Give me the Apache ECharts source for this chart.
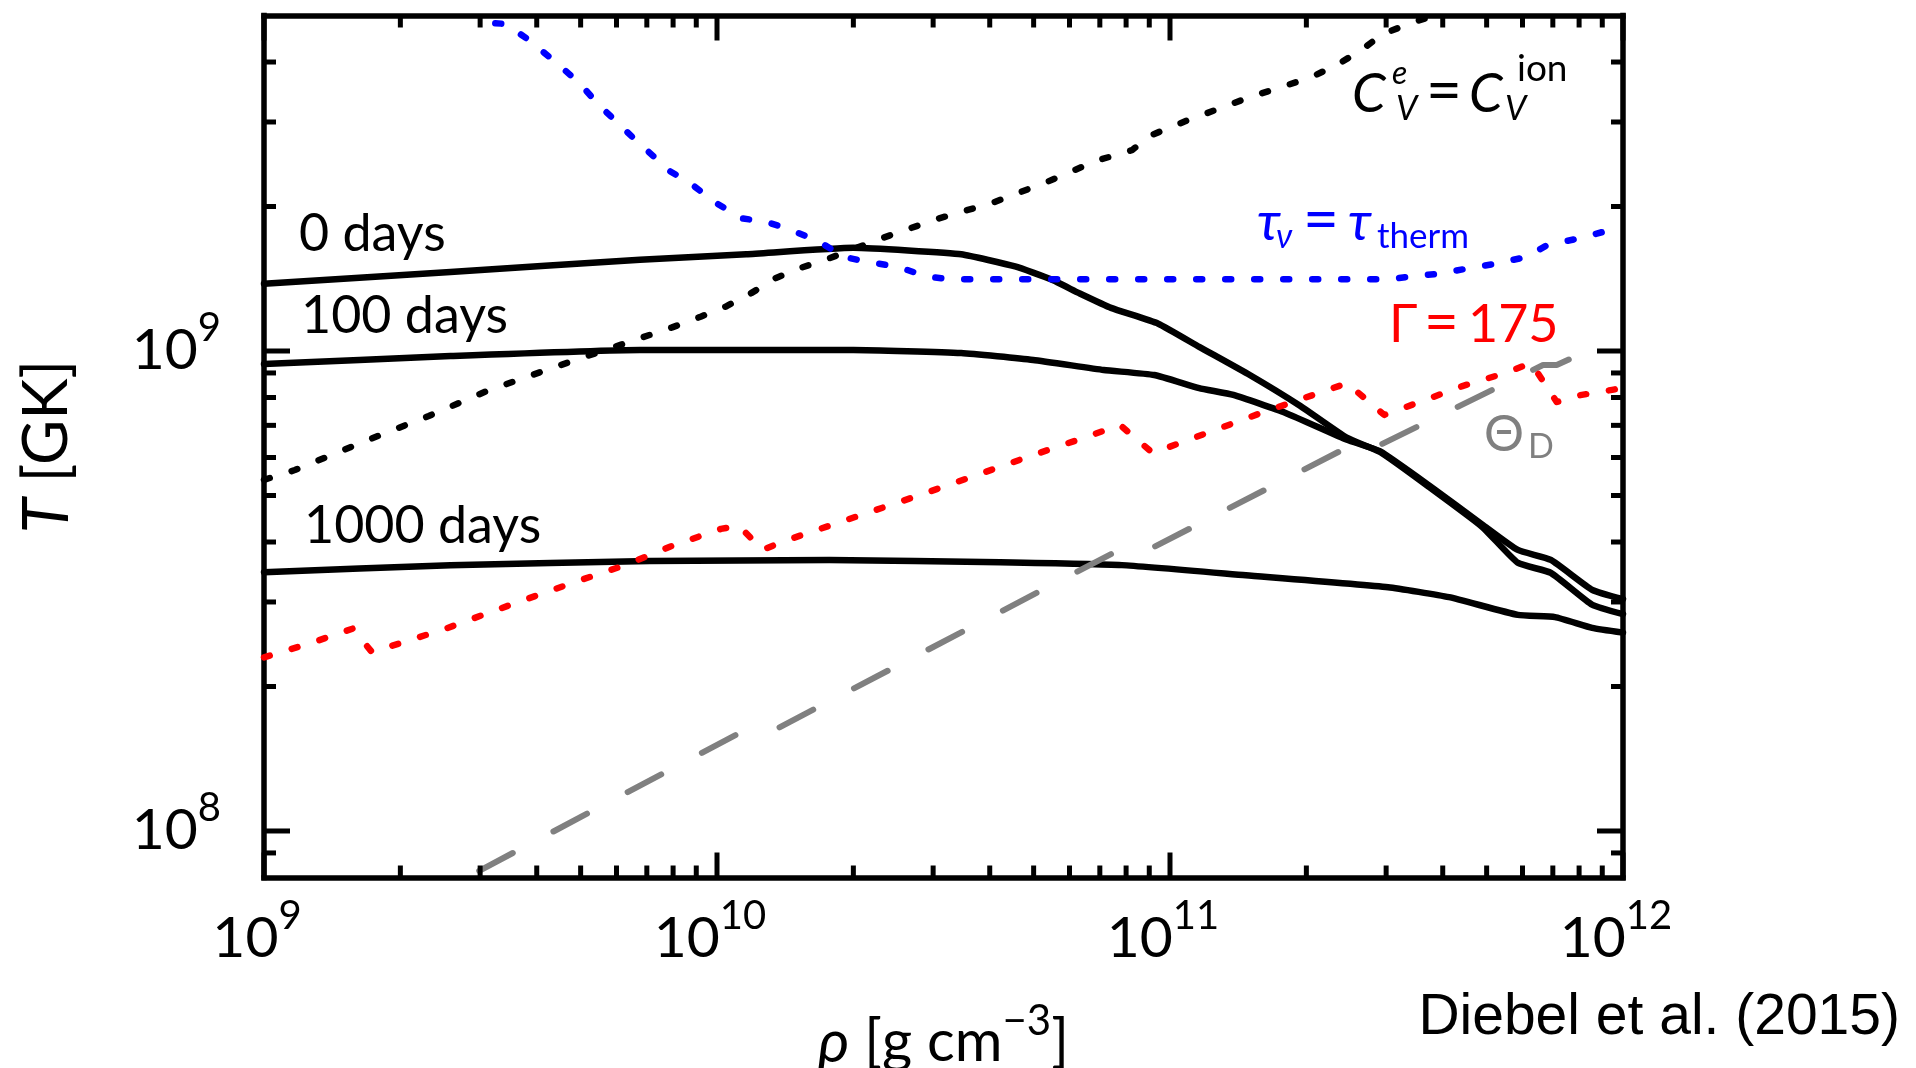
<!DOCTYPE html>
<html>
<head>
<meta charset="utf-8">
<script src="https://cdn.jsdelivr.net/npm/echarts@6/dist/echarts.min.js"></script>
<style>
html,body{margin:0;padding:0;background:#ffffff;}
#chart{width:1916px;height:1068px;}
</style>
</head>
<body>
<div id="chart"></div>
<script>
// ---------------- data ----------------
const rho_0days = [1.00e9, 2.58e9, 6.76e9, 1.16e10, 2.00e10, 2.64e10, 3.46e10, 4.55e10, 5.46e10, 6.30e10, 7.41e10, 9.42e10, 1.16e11, 1.50e11, 1.94e11, 2.46e11, 2.91e11, 3.73e11, 4.89e11, 5.86e11, 6.93e11, 8.55e11, 1.00e12];
const T_0days   = [1.38e9, 1.46e9, 1.55e9, 1.59e9, 1.64e9, 1.62e9, 1.59e9, 1.50e9, 1.41e9, 1.32e9, 1.23e9, 1.14e9, 1.02e9, 8.91e8, 7.68e8, 6.59e8, 6.16e8, 5.21e8, 4.30e8, 3.62e8, 3.45e8, 2.96e8, 2.83e8];

const rho_100days = [1.00e9, 2.58e9, 6.76e9, 2.00e10, 3.46e10, 4.99e10, 7.14e10, 9.23e10, 1.16e11, 1.38e11, 1.80e11, 2.46e11, 2.91e11, 3.73e11, 4.89e11, 5.86e11, 6.93e11, 8.55e11, 1.00e12];
const T_100days   = [9.39e8, 9.76e8, 1.005e9, 1.005e9, 9.90e8, 9.58e8, 9.13e8, 8.91e8, 8.37e8, 8.10e8, 7.43e8, 6.53e8, 6.18e8, 5.25e8, 4.35e8, 3.85e8, 3.67e8, 3.18e8, 3.04e8];

const rho_1000days = [1.00e9, 2.58e9, 7.11e9, 1.77e10, 4.22e10, 7.83e10, 1.47e11, 3.03e11, 4.13e11, 5.86e11, 7.08e11, 8.55e11, 1.00e12];
const T_1000days   = [3.46e8, 3.58e8, 3.65e8, 3.67e8, 3.63e8, 3.58e8, 3.41e8, 3.22e8, 3.07e8, 2.82e8, 2.79e8, 2.65e8, 2.59e8];

// C_V^e = C_V^ion
const rho_cv = [1.00e9, 1.17e9, 1.72e9, 2.31e9, 3.10e9, 4.46e9, 6.12e9, 7.96e9, 9.23e9, 1.05e10, 1.19e10, 1.35e10, 1.53e10, 1.77e10, 2.32e10, 3.04e10, 4.08e10, 5.35e10, 6.87e10, 8.24e10, 9.04e10, 1.08e11, 1.50e11, 2.04e11, 2.35e11, 2.65e11, 2.94e11, 3.40e11, 3.75e11];
const T_cv   = [5.39e8, 5.65e8, 6.56e8, 7.32e8, 8.25e8, 9.31e8, 1.03e9, 1.12e9, 1.18e9, 1.24e9, 1.32e9, 1.42e9, 1.49e9, 1.56e9, 1.72e9, 1.88e9, 2.04e9, 2.25e9, 2.49e9, 2.62e9, 2.81e9, 3.01e9, 3.38e9, 3.71e9, 3.96e9, 4.24e9, 4.57e9, 4.82e9, 4.97e9];

// tau_nu = tau_therm
const rho_tau = [3.24e9, 3.42e9, 3.81e9, 4.46e9, 4.99e9, 5.46e9, 6.56e9, 7.87e9, 8.71e9, 9.91e9, 1.13e10, 1.28e10, 1.45e10, 1.68e10, 1.91e10, 2.17e10, 2.50e10, 2.89e10, 3.29e10, 3.06e11, 3.40e11, 3.96e11, 4.61e11, 5.25e11, 6.11e11, 6.79e11, 8.07e11, 9.42e11, 1.00e12];
const T_tau   = [4.82e9, 4.80e9, 4.47e9, 3.96e9, 3.60e9, 3.27e9, 2.77e9, 2.37e9, 2.24e9, 2.04e9, 1.89e9, 1.86e9, 1.79e9, 1.69e9, 1.57e9, 1.53e9, 1.50e9, 1.43e9, 1.41e9, 1.41e9, 1.43e9, 1.45e9, 1.49e9, 1.52e9, 1.57e9, 1.66e9, 1.72e9, 1.79e9, 1.81e9];

// Gamma = 175
const rho_gamma = [1.00e9, 1.28e9, 1.57e9, 1.73e9, 2.02e9, 2.52e9, 3.17e9, 3.98e9, 4.99e9, 6.27e9, 7.87e9, 1.02e10, 1.12e10, 1.26e10, 1.41e10, 2.89e10, 4.99e10, 6.53e10, 7.76e10, 9.16e10, 1.59e11, 2.46e11, 2.97e11, 3.56e11, 4.42e11, 5.50e11, 6.27e11, 7.14e11, 8.04e11, 9.46e11, 1.00e12];
const T_gamma   = [2.30e8, 2.47e8, 2.64e8, 2.36e8, 2.47e8, 2.64e8, 2.86e8, 3.09e8, 3.33e8, 3.58e8, 3.91e8, 4.26e8, 4.32e8, 3.85e8, 4.02e8, 5.06e8, 6.07e8, 6.62e8, 7.01e8, 6.13e8, 7.43e8, 8.57e8, 7.36e8, 7.83e8, 8.45e8, 9.00e8, 9.44e8, 7.83e8, 8.09e8, 8.30e8, 8.38e8];

// Theta_D
const rho_theta = [2.80e9, 1.12e10, 1.30e10, 7.83e10, 9.10e10, 2.48e11, 2.86e11, 6.66e11, 7.14e11, 8.95e11];
const T_theta   = [8.00e7, 1.60e8, 1.60e8, 3.88e8, 3.88e8, 6.32e8, 6.32e8, 9.35e8, 9.35e8, 1.03e9];

// axis ticks
const xMajorTicks = [1e9, 1e10, 1e11, 1e12];
const xMinorTicks = [2e9, 3e9, 4e9, 5e9, 6e9, 7e9, 8e9, 9e9, 2e10, 3e10, 4e10, 5e10, 6e10, 7e10, 8e10, 9e10, 2e11, 3e11, 4e11, 5e11, 6e11, 7e11, 8e11, 9e11];
const yMajorTicks = [1e8, 1e9];
const yMinorTicks = [9e7, 2e8, 3e8, 4e8, 5e8, 6e8, 7e8, 8e8, 9e8, 2e9, 3e9, 4e9];

// ---------------- chart ----------------
const FONT = "Lato, 'Noto Sans', 'DejaVu Sans', sans-serif";
const chart = echarts.init(document.getElementById('chart'), null, {renderer: 'canvas'});

function zip(xs, ys) { return xs.map((x, i) => [x, ys[i]]); }

function lineSeries(name, xs, ys, lineStyle, z, smooth) {
  return {
    type: 'line', name: name, data: zip(xs, ys), showSymbol: false, symbol: 'none',
    smooth: smooth || false, silent: true, z: z, lineStyle: lineStyle, emphasis: {disabled: true},
    xAxisIndex: 0, yAxisIndex: 0
  };
}

function tickSeries(values, axis, len) {
  return {
    type: 'custom', silent: true, clip: false, z: 6, xAxisIndex: 0, yAxisIndex: 0,
    data: values.map(v => axis === 'x' ? [v, 1e9] : [1e10, v]),
    renderItem: function (params, api) {
      const cs = params.coordSys;
      const p = api.coord([api.value(0), api.value(1)]);
      const st = {stroke: '#000', lineWidth: 5};
      if (axis === 'x') {
        const yb = cs.y + cs.height, yt = cs.y;
        return {type: 'group', children: [
          {type: 'line', shape: {x1: p[0], y1: yb, x2: p[0], y2: yb - len}, style: st},
          {type: 'line', shape: {x1: p[0], y1: yt, x2: p[0], y2: yt + len}, style: st}
        ]};
      } else {
        const xl = cs.x, xr = cs.x + cs.width;
        return {type: 'group', children: [
          {type: 'line', shape: {x1: xl, y1: p[1], x2: xl + len, y2: p[1]}, style: st},
          {type: 'line', shape: {x1: xr, y1: p[1], x2: xr - len, y2: p[1]}, style: st}
        ]};
      }
    }
  };
}

function powLabel(v) {
  const e = Math.log10(v);
  if (Math.abs(e - Math.round(e)) > 1e-6) return '';
  return '{b|10}{s|' + Math.round(e) + '}';
}

const labelRich = {
  b: {fontFamily: FONT, fontSize: 57, color: '#000', padding: [14, 0, 0, 0]},
  s: {fontFamily: FONT, fontSize: 40, color: '#000', verticalAlign: 'top'}
};
const frameLine = {show: true, onZero: false, lineStyle: {color: '#000', width: 5.5, cap: 'square'}};

// text helper: x = left edge, b = baseline
function txt(text, x, b, size, color, opts) {
  opts = opts || {};
  const fam = opts.family || FONT;
  const k = opts.k || 0.387;
  return {
    type: 'text', x: x, y: b - k * size, silent: true, z: 100,
    style: {
      text: text, fill: color, fontFamily: fam, fontSize: size,
      fontStyle: opts.italic ? 'italic' : 'normal',
      align: opts.align || 'left', verticalAlign: 'middle'
    }
  };
}

const solid = {color: '#000', width: 6.5, cap: 'round', join: 'round'};
const dotted = c => ({color: c, width: 6.5, type: [6, 23], cap: 'round', join: 'round'});

const option = {
  animation: false,
  backgroundColor: '#ffffff',
  grid: {left: 264, top: 15.5, width: 1359, height: 862, containLabel: false, outerBoundsMode: 'none'},
  xAxis: [
    {
      type: 'log', logBase: 10, min: 1e9, max: 1e12, position: 'bottom',
      axisLine: frameLine, axisTick: {show: false}, minorTick: {show: false},
      splitLine: {show: false}, minorSplitLine: {show: false},
      axisLabel: {margin: 19, formatter: powLabel, rich: labelRich, padding: [0, 14, 0, 0]},
      name: '{i|ρ} {n|[g cm}{s|−3}{n|]}', nameLocation: 'middle', nameGap: 123,
      nameTextStyle: {
        fontFamily: FONT, fontSize: 58, color: '#000',
        rich: {
          i: {fontFamily: FONT, fontSize: 60, fontStyle: 'italic', color: '#000', padding: [12, 0, 0, 0]},
          n: {fontFamily: FONT, fontSize: 58, color: '#000', padding: [12, 0, 0, 0]},
          s: {fontFamily: FONT, fontSize: 42, color: '#000', verticalAlign: 'top'}
        }
      }
    },
    {
      type: 'log', logBase: 10, min: 1e9, max: 1e12, position: 'top',
      axisLine: frameLine, axisTick: {show: false}, axisLabel: {show: false}, splitLine: {show: false}
    }
  ],
  yAxis: [
    {
      type: 'log', logBase: 10, min: 8e7, max: 5e9, position: 'left',
      axisLine: frameLine, axisTick: {show: false}, minorTick: {show: false},
      splitLine: {show: false}, minorSplitLine: {show: false},
      axisLabel: {margin: 43, formatter: powLabel, rich: labelRich, padding: [0, 0, 14, 0]},
      name: '{i|T} {n|[GK]}', nameLocation: 'middle', nameRotate: 90, nameGap: 185,
      nameTextStyle: {
        fontFamily: FONT, fontSize: 62, color: '#000',
        rich: {
          i: {fontFamily: FONT, fontSize: 64, fontStyle: 'italic', color: '#000'},
          n: {fontFamily: FONT, fontSize: 62, color: '#000'}
        }
      }
    },
    {
      type: 'log', logBase: 10, min: 8e7, max: 5e9, position: 'right',
      axisLine: frameLine, axisTick: {show: false}, axisLabel: {show: false}, splitLine: {show: false}
    }
  ],
  series: [
    lineSeries('1000 days', rho_1000days, T_1000days, solid, 2, 0.15),
    lineSeries('100 days', rho_100days, T_100days, solid, 2, 0.15),
    lineSeries('0 days', rho_0days, T_0days, solid, 2, 0.15),
    lineSeries('Theta_D', rho_theta, T_theta, {color: '#808080', width: 6, type: [38, 46], dashOffset: -14.3, cap: 'round'}, 3),
    lineSeries('Gamma=175', rho_gamma, T_gamma, dotted('#ff0000'), 4),
    lineSeries('Cv_e=Cv_ion', rho_cv, T_cv, dotted('#000000'), 4),
    lineSeries('tau_nu=tau_therm', rho_tau, T_tau, dotted('#0000ff'), 5),
    tickSeries(xMajorTicks, 'x', 25),
    tickSeries(xMinorTicks, 'x', 12),
    tickSeries(yMajorTicks, 'y', 26),
    tickSeries(yMinorTicks, 'y', 12)
  ],
  graphic: [
    txt('0 days', 299, 254, 52, '#000'),
    txt('100 days', 301, 336, 52, '#000'),
    txt('1000 days', 304, 546, 52, '#000'),
    // C_V^e = C_V^ion
    txt('C', 1352, 115, 54, '#000', {italic: true}),
    txt('e', 1392, 86, 32, '#000', {italic: true}),
    txt('V', 1396, 122, 34, '#000', {italic: true}),
    txt('=', 1426, 116, 62, '#000'),
    txt('C', 1469, 115, 54, '#000', {italic: true}),
    txt('V', 1505, 122, 34, '#000', {italic: true}),
    txt('ion', 1517, 83, 37, '#000'),
    // tau_nu = tau_therm
    txt('τ', 1257, 243, 54, '#0000ff', {italic: true}),
    txt('ν', 1276, 250, 34, '#0000ff', {italic: true}),
    txt('=', 1303, 245, 62, '#0000ff'),
    txt('τ', 1348, 243, 54, '#0000ff', {italic: true}),
    txt('therm', 1377, 250, 35, '#0000ff'),
    // Gamma = 175
    txt('Γ', 1389, 345, 52, '#ff0000'),
    txt('=', 1424, 346, 60, '#ff0000'),
    txt('175', 1468, 345, 52, '#ff0000'),
    // Theta_D
    txt('Θ', 1484, 454, 50, '#808080'),
    txt('D', 1528, 460, 34, '#808080'),
    // credit
    txt('Diebel et al. (2015)', 1900, 1038, 57, '#000', {family: "'Liberation Sans', Arial, sans-serif", align: 'right', k: 0.3465})
  ]
};
chart.setOption(option);
</script>
</body>
</html>
